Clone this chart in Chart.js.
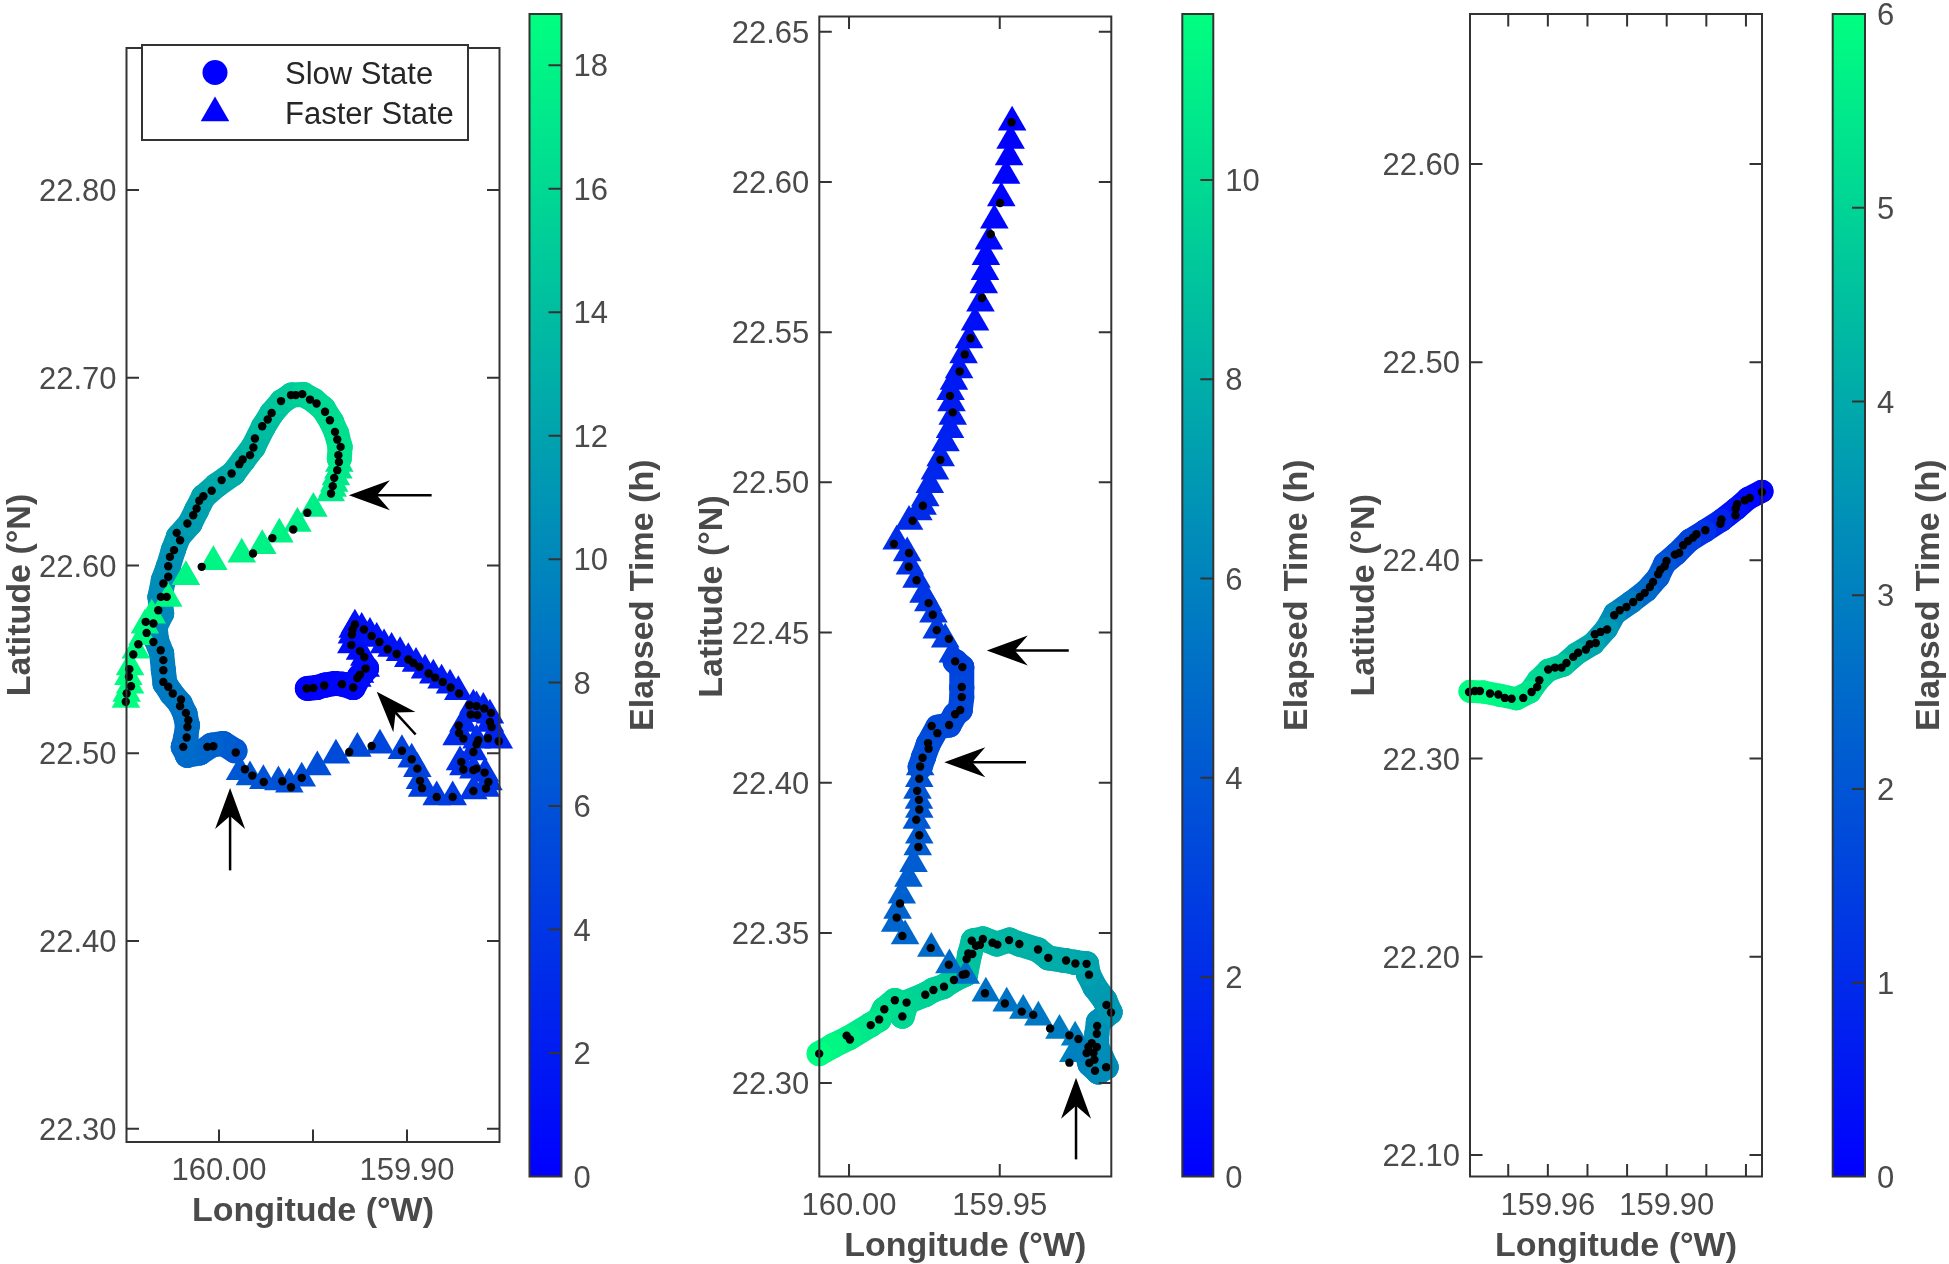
<!DOCTYPE html>
<html lang="en">
<head>
<meta charset="UTF-8" />
<title>Elapsed time tracks</title>
<script src="https://cdn.jsdelivr.net/npm/chart.js@4/dist/chart.umd.js"></script>
<style>
body { margin: 0; background: #fff; }
canvas { position: absolute; top: 0; }
</style>
</head>
<body>
<script>
// ---- panel 1 ----
const slowLon1 = [159.9530,159.9481,159.9436,159.9383,159.9342,159.9286,159.9254,159.9215,null,
  159.9915,159.9977,160.0039,160.0101,160.0168,160.0190,160.0176,160.0168,160.0181,160.0207,
  160.0252,160.0287,160.0296,160.0305,160.0332,160.0340,160.0305,160.0314,160.0296,160.0270,
  160.0243,160.0216,160.0154,160.0119,160.0083,160.0012,159.9924,159.9871,159.9817,159.9764,
  159.9720,159.9667,159.9614,159.9551,159.9498,159.9445,159.9401,159.9374,159.9356,159.9360];
const slowLat1 = [22.5345,22.5350,22.5363,22.5372,22.5368,22.5350,22.5407,22.5452,null,
  22.5013,22.5052,22.5043,22.5002,22.4989,22.5034,22.5087,22.5149,22.5211,22.5265,
  22.5318,22.5371,22.5442,22.5531,22.5602,22.5673,22.5744,22.5833,22.5922,22.5993,
  22.6082,22.6153,22.6224,22.6295,22.6366,22.6428,22.6490,22.6561,22.6632,22.6739,
  22.6810,22.6872,22.6908,22.6911,22.6881,22.6836,22.6765,22.6703,22.6632,22.6570];
const slowTime1 = [0.0,0.1,0.2,0.3,0.4,0.5,0.6,0.7,null,
  6.6,6.9,7.2,7.5,7.8,8.0,8.1,8.3,8.5,8.7,
  8.9,9.1,9.3,9.5,9.7,9.9,10.1,10.3,10.5,10.8,
  11.0,11.3,11.6,11.9,12.2,12.5,12.8,13.1,13.5,13.9,
  14.3,14.7,15.0,15.4,15.7,16.0,16.3,16.5,16.7,16.9];
const fastLon1 = [159.9220,159.9250,159.9264,159.9227,159.9250,159.9296,159.9293,159.9289,159.9277,159.9241,
  159.9197,159.9161,159.9122,159.9082,159.9037,159.8993,159.8952,159.8904,159.8860,159.8816,
  159.8771,159.8727,159.8647,159.8594,159.8559,159.8559,159.8541,159.8512,159.8630,159.8665,
  159.8700,159.8718,159.8736,159.8630,159.8647,159.8700,159.8718,159.8647,159.8585,159.8567,
  159.8580,159.8647,159.8757,159.8842,159.8920,159.8931,159.8945,159.8975,159.9027,159.9144,
  159.9264,159.9378,159.9477,159.9560,159.9626,159.9684,159.9764,159.9835,159.9888,
  159.9360,159.9365,159.9378,159.9387,159.9395,159.9406,159.9498,159.9583,159.9679,159.9770,
  159.9879,160.0030,160.0176,160.0270,160.0358,160.0394,160.0406,160.0442,160.0473,160.0482,
  160.0473,160.0491,160.0495];
const fastLat1 = [22.5451,22.5419,22.5398,22.5510,22.5542,22.5576,22.5629,22.5659,22.5682,22.5664,
  22.5638,22.5611,22.5576,22.5558,22.5535,22.5504,22.5478,22.5442,22.5416,22.5389,
  22.5362,22.5327,22.5256,22.5238,22.5203,22.5158,22.5096,22.5069,22.5247,22.5211,
  22.5158,22.5105,22.5087,22.5069,22.5007,22.4927,22.4954,22.4910,22.4892,22.4847,
  22.4812,22.4799,22.4767,22.4767,22.4812,22.4853,22.4918,22.4968,22.5013,22.5043,
  22.5025,22.4989,22.4927,22.4867,22.4835,22.4847,22.4853,22.4874,22.4901,
  22.6543,22.6508,22.6472,22.6437,22.6410,22.6387,22.6304,22.6224,22.6167,22.6105,
  22.6060,22.6020,22.5940,22.5824,22.5735,22.5682,22.5620,22.5549,22.5460,22.5407,
  22.5362,22.5318,22.5286];
const fastTime1 = [0.7,0.8,0.8,0.9,0.9,0.9,1.0,1.0,1.1,1.1,
  1.2,1.2,1.3,1.4,1.4,1.5,1.6,1.6,1.7,1.8,
  1.9,2.0,2.2,2.3,2.4,2.5,2.6,2.7,2.8,2.9,
  3.0,3.1,3.2,3.3,3.4,3.5,3.6,3.7,3.8,3.9,
  4.0,4.1,4.3,4.5,4.6,4.7,4.8,4.9,5.0,5.2,
  5.4,5.5,5.7,5.8,5.9,6.0,6.1,6.3,6.4,
  17.0,17.1,17.2,17.3,17.4,17.5,17.6,17.7,17.8,17.9,
  18.0,18.1,18.2,18.3,18.4,18.4,18.5,18.5,18.6,18.6,
  18.7,18.7,18.8];
const dotLon1 = [159.9534,159.9498,159.9440,159.9346,159.9286,159.9264,159.9250,159.9220,159.9227,159.9250,
  159.9296,159.9293,159.9289,159.9277,159.9229,159.9188,159.9147,159.9103,159.9055,159.8993,
  159.8966,159.8934,159.8885,159.8851,159.8810,159.8768,159.8723,159.8668,159.8630,159.8589,
  159.8553,159.8559,159.8550,159.8661,159.8626,159.8725,159.8723,159.8700,159.8569,159.8512,
  159.8621,159.8630,159.8647,159.8711,159.8700,159.8647,159.8630,159.8587,159.8567,159.8580,
  159.8647,159.8757,159.8842,159.8920,159.8931,159.8945,159.8975,159.9027,159.9188,159.9307,
  159.9560,159.9617,159.9663,159.9762,159.9823,159.9862,159.9911,
  160.0030,160.0062,160.0190,160.0172,160.0168,160.0163,160.0176,160.0207,160.0202,160.0246,
  160.0270,160.0296,160.0296,160.0296,160.0310,160.0349,160.0349,160.0323,160.0309,160.0296,
  160.0270,160.0270,160.0261,160.0239,160.0207,160.0225,160.0168,160.0137,160.0119,160.0105,
  160.0083,160.0039,159.9986,159.9933,159.9892,159.9874,159.9835,159.9817,159.9809,159.9770,
  159.9741,159.9720,159.9670,159.9617,159.9592,159.9557,159.9516,159.9481,159.9436,159.9410,
  159.9383,159.9371,159.9353,
  159.9365,159.9362,159.9371,159.9387,159.9395,159.9404,159.9530,159.9605,159.9716,159.9819,
  160.0092,160.0278,160.0390,160.0385,160.0429,160.0456,160.0477,160.0479,160.0468,160.0491,160.0496];
const dotLat1 = [22.5345,22.5348,22.5361,22.5368,22.5350,22.5401,22.5419,22.5451,22.5513,22.5544,
  22.5576,22.5632,22.5659,22.5686,22.5659,22.5625,22.5593,22.5554,22.5529,22.5499,
  22.5481,22.5460,22.5425,22.5403,22.5380,22.5350,22.5318,22.5256,22.5251,22.5238,
  22.5215,22.5167,22.5140,22.5206,22.5203,22.5148,22.5108,22.5078,22.5080,22.5064,
  22.5069,22.5048,22.5007,22.4954,22.4913,22.4910,22.4918,22.4897,22.4847,22.4812,
  22.4799,22.4767,22.4767,22.4814,22.4853,22.4918,22.4968,22.5013,22.5039,22.5007,
  22.4869,22.4819,22.4851,22.4847,22.4881,22.4915,22.5004,
  22.5037,22.5034,22.5034,22.5084,22.5140,22.5176,22.5215,22.5251,22.5286,22.5318,
  22.5354,22.5380,22.5442,22.5496,22.5549,22.5593,22.5691,22.5762,22.5833,22.5904,
  22.5940,22.5996,22.6046,22.6082,22.6135,22.6174,22.6224,22.6268,22.6304,22.6345,
  22.6369,22.6398,22.6455,22.6490,22.6540,22.6565,22.6588,22.6629,22.6677,22.6742,
  22.6778,22.6813,22.6876,22.6908,22.6908,22.6913,22.6884,22.6863,22.6819,22.6774,
  22.6712,22.6671,22.6632,
  22.6588,22.6552,22.6508,22.6467,22.6423,22.6384,22.6281,22.6192,22.6146,22.6064,
  22.5993,22.5833,22.5700,22.5641,22.5581,22.5526,22.5448,22.5407,22.5357,22.5318,22.5274];
const arrowTipLon1 = [159.9309,159.9161,159.9941];
const arrowTipLat1 = [22.6375,22.5327,22.4815];
const arrowTailLon1 = [159.8869,159.8954,159.9941];
const arrowTailLat1 = [22.6375,22.5100,22.4376];
const xTicks1 = [160.00,159.95,159.90];
const xLabels1 = ['160.00','','159.90'];
const yTicks1 = [22.30,22.40,22.50,22.60,22.70,22.80];
const barTicks1 = [0,2,4,6,8,10,12,14,16,18];

// ---- panel 2 ----
const slowLon2 = [159.9648,159.9626,159.9626,159.9626,159.9631,159.9648,159.9668,159.9706,159.9737,159.9753,159.9764,null,
  159.9212,159.9201,159.9173,159.9147,159.9178,159.9178,159.9173,159.9134,159.9151,159.9184,
  159.9206,159.9212,159.9250,159.9283,159.9339,159.9374,159.9435,159.9468,159.9510,159.9555,
  159.9588,159.9599,159.9613,159.9654,159.9687,159.9720,159.9748,159.9809,159.9823,159.9848,
  159.9883,159.9900,159.9928,159.9999,160.0052,160.0099];
const slowLat2 = [22.4404,22.4384,22.4317,22.4284,22.4242,22.4227,22.4192,22.4185,22.4129,22.4085,22.4052,null,
  22.3103,22.3064,22.3037,22.3053,22.3120,22.3164,22.3203,22.3236,22.3275,22.3319,
  22.3363,22.3397,22.3402,22.3408,22.3417,22.3444,22.3463,22.3476,22.3463,22.3480,
  22.3474,22.3432,22.3363,22.3343,22.3321,22.3310,22.3294,22.3269,22.3223,22.3275,
  22.3246,22.3212,22.3194,22.3151,22.3125,22.3098];
const slowTime2 = [3.0,3.1,3.2,3.2,3.3,3.3,3.4,3.4,3.5,3.6,3.6,null,
  6.0,6.1,6.3,6.4,6.5,6.6,6.7,6.9,7.0,7.1,
  7.3,7.5,7.7,7.8,7.9,8.0,8.2,8.3,8.4,8.6,
  8.7,8.8,9.0,9.2,9.3,9.5,9.6,9.8,9.9,10.0,
  10.2,10.4,10.6,11.0,11.3,11.6];
const fastLon2 = [159.9459,159.9464,159.9469,159.9479,159.9495,159.9518,159.9536,159.9546,159.9549,159.9553,
  159.9564,159.9582,159.9602,159.9620,159.9635,159.9652,159.9663,159.9660,159.9656,159.9665,
  159.9680,159.9696,159.9715,159.9732,159.9747,159.9756,159.9770,159.9801,159.9842,159.9807,
  159.9798,159.9776,159.9753,159.9737,159.9720,159.9709,159.9681,159.9656,
  159.9764,159.9767,159.9773,159.9768,159.9767,159.9775,159.9767,159.9772,159.9786,159.9803,
  159.9825,159.9839,159.9847,159.9814,159.9727,159.9667,
  159.9613,159.9546,159.9477,159.9422,159.9372,159.9302,159.9250,159.9256];
const fastLat2 = [22.6199,22.6138,22.6083,22.6022,22.5947,22.5873,22.5803,22.5751,22.5701,22.5657,
  22.5596,22.5533,22.5474,22.5424,22.5374,22.5336,22.5302,22.5264,22.5219,22.5175,
  22.5131,22.5081,22.5037,22.4992,22.4948,22.4920,22.4901,22.4870,22.4804,22.4765,
  22.4721,22.4677,22.4627,22.4598,22.4561,22.4508,22.4478,22.4428,
  22.4052,22.4013,22.3974,22.3941,22.3911,22.3874,22.3825,22.3786,22.3730,22.3681,
  22.3625,22.3575,22.3531,22.3490,22.3448,22.3393,
  22.3358,22.3299,22.3266,22.3242,22.3219,22.3175,22.3153,22.3098];
const fastTime2 = [0.0,0.1,0.1,0.2,0.2,0.3,0.4,0.4,0.5,0.5,
  0.6,0.7,0.8,0.9,1.0,1.1,1.2,1.2,1.3,1.4,
  1.5,1.6,1.7,1.8,1.9,1.9,2.0,2.0,2.1,2.2,
  2.2,2.3,2.4,2.5,2.6,2.7,2.8,2.9,
  3.7,3.8,3.8,3.9,4.0,4.0,4.1,4.2,4.2,4.3,
  4.4,4.5,4.6,4.7,4.9,5.0,
  5.1,5.2,5.3,5.4,5.5,5.7,5.8,5.9];
const dotLon2 = [159.9461,159.9499,159.9530,159.9559,159.9597,159.9616,159.9633,159.9665,159.9656,159.9697,
  159.9755,159.9789,159.9851,159.9801,159.9802,159.9776,159.9736,159.9722,159.9709,159.9669,
  159.9648,159.9624,159.9626,159.9626,159.9631,159.9648,159.9668,159.9726,159.9707,159.9738,
  159.9736,159.9756,159.9764,159.9767,159.9774,159.9768,159.9767,159.9777,159.9767,159.9770,
  159.9831,159.9842,159.9823,159.9729,159.9669,
  159.9549,159.9483,159.9427,159.9389,159.9333,159.9269,159.9239,159.9269,159.9212,159.9206,
  159.9195,159.9178,159.9189,159.9186,159.9203,159.9184,159.9147,159.9178,159.9177,159.9131,
  159.9146,159.9204,159.9212,159.9249,159.9280,159.9339,159.9373,159.9435,159.9469,159.9508,
  159.9524,159.9556,159.9566,159.9579,159.9593,159.9591,159.9604,159.9610,159.9613,159.9623,
  159.9652,159.9685,159.9720,159.9747,159.9809,159.9823,159.9848,159.9883,159.9900,159.9928,
  159.9997,160.0008,160.0099];
const dotLat2 = [22.6199,22.5930,22.5826,22.5614,22.5480,22.5426,22.5369,22.5288,22.5233,22.5075,
  22.4922,22.4872,22.4795,22.4765,22.4719,22.4674,22.4598,22.4559,22.4508,22.4479,
  22.4404,22.4385,22.4319,22.4285,22.4242,22.4228,22.4192,22.4189,22.4165,22.4132,
  22.4113,22.4083,22.4054,22.4013,22.3973,22.3943,22.3911,22.3877,22.3825,22.3786,
  22.3598,22.3551,22.3490,22.3450,22.3394,
  22.3299,22.3265,22.3238,22.3227,22.3182,22.3159,22.3147,22.3068,22.3100,22.3120,
  22.3133,22.3120,22.3100,22.3078,22.3067,22.3041,22.3053,22.3164,22.3190,22.3235,
  22.3260,22.3361,22.3397,22.3398,22.3408,22.3417,22.3445,22.3463,22.3476,22.3461,
  22.3467,22.3480,22.3460,22.3457,22.3474,22.3430,22.3432,22.3413,22.3363,22.3361,
  22.3343,22.3321,22.3310,22.3294,22.3268,22.3222,22.3276,22.3246,22.3212,22.3193,
  22.3145,22.3158,22.3098];
const arrowTipLon2 = [159.9543,159.9684,159.9247];
const arrowTipLat2 = [22.4440,22.4068,22.3018];
const arrowTailLon2 = [159.9271,159.9413,159.9247];
const arrowTailLat2 = [22.4440,22.4068,22.2746];
const xTicks2 = [160.00,159.95];
const xLabels2 = ['160.00','159.95'];
const yTicks2 = [22.30,22.35,22.40,22.45,22.50,22.55,22.60,22.65];
const barTicks2 = [0,2,4,6,8,10];

// ---- panel 3 ----
const slowLon3 = [159.8519,159.8590,159.8648,159.8724,159.8808,159.8884,159.8951,159.9010,159.9043,159.9102,
  159.9178,159.9262,159.9304,159.9371,159.9455,159.9522,159.9598,159.9649,159.9691,159.9758,
  159.9842,159.9926,159.9993];
const slowLat3 = [22.4349,22.4312,22.4261,22.4202,22.4148,22.4101,22.4034,22.3984,22.3916,22.3849,
  22.3790,22.3731,22.3656,22.3580,22.3529,22.3471,22.3445,22.3395,22.3336,22.3302,
  22.3319,22.3336,22.3339];
const slowTime3 = [0,0.2,0.4,0.8,1.2,1.6,1.8,2.0,2.2,2.5,
  2.9,3.3,3.6,3.9,4.3,4.7,4.9,5.1,5.4,5.6,
  5.8,5.9,6.0];
const dotLon3 = [159.8519,159.8581,159.8606,159.8645,159.8652,159.8653,159.8724,159.8729,159.8805,159.8850,
  159.8867,159.8892,159.8917,159.8937,159.8959,159.9001,159.9010,159.9032,159.9043,159.9069,
  159.9085,159.9111,159.9136,159.9169,159.9203,159.9237,159.9265,159.9301,159.9334,159.9363,
  159.9358,159.9388,159.9408,159.9447,159.9472,159.9506,159.9531,159.9564,159.9598,159.9643,
  159.9654,159.9682,159.9724,159.9783,159.9817,159.9850,159.9892,159.9943,159.9968,159.9998];
const dotLat3 = [22.4345,22.4315,22.4303,22.4283,22.4261,22.4227,22.4206,22.4185,22.4152,22.4132,
  22.4115,22.4098,22.4076,22.4037,22.4029,22.3997,22.3970,22.3953,22.3930,22.3891,
  22.3866,22.3836,22.3815,22.3790,22.3765,22.3748,22.3723,22.3651,22.3639,22.3627,
  22.3583,22.3577,22.3550,22.3534,22.3513,22.3482,22.3459,22.3459,22.3449,22.3395,
  22.3361,22.3336,22.3306,22.3302,22.3306,22.3323,22.3328,22.3341,22.3341,22.3336];
const xTicks3 = [159.98,159.96,159.94,159.92,159.90,159.88,159.86];
const xLabels3 = ['','159.96','','','159.90','',''];
const yTicks3 = [22.10,22.20,22.30,22.40,22.50,22.60];
const barTicks3 = [0,1,2,3,4,5,6];

const legendLabels = ['Slow State','Faster State'];
const xTitle = 'Longitude (°W)';
const yTitle = 'Latitude (°N)';
const barTitle = 'Elapsed Time (h)';

const FONT = '"Liberation Sans", Arial, sans-serif';
const TICK_COLOR = '#4a4a4a';
const LINE_COLOR = '#333333';
const X_AXIS_HEIGHT = 87;

// winter colormap
function winter(t, tMax) {
  const f = Math.min(Math.max(t / tMax, 0), 1);
  return 'rgb(0,' + Math.round(255 * f) + ',' + Math.round(255 * (1 - 0.5 * f)) + ')';
}

function xy(lon, lat) {
  return lon.map((v, i) => ({ x: v, y: lat[i] }));
}

function addCanvas(left, width) {
  const c = document.createElement('canvas');
  c.width = width;
  c.height = 1264;
  c.style.left = left + 'px';
  c.style.width = width + 'px';
  c.style.height = '1264px';
  document.body.appendChild(c);
  return c.getContext('2d');
}

// MATLAB style box with inward ticks
const boxPlugin = {
  id: 'box',
  afterDatasetsDraw(chart) {
    const { ctx, chartArea: a, scales } = chart;
    ctx.save();
    ctx.strokeStyle = LINE_COLOR;
    ctx.lineWidth = 2;
    ctx.beginPath();
    if (scales.x.options.display) {
      scales.x.ticks.forEach(t => {
        const px = scales.x.getPixelForValue(t.value);
        ctx.moveTo(px, a.bottom); ctx.lineTo(px, a.bottom - 12.5);
        ctx.moveTo(px, a.top); ctx.lineTo(px, a.top + 12.5);
      });
      scales.y.ticks.forEach(t => {
        const py = scales.y.getPixelForValue(t.value);
        ctx.moveTo(a.left, py); ctx.lineTo(a.left + 12.5, py);
        ctx.moveTo(a.right, py); ctx.lineTo(a.right - 12.5, py);
      });
    } else {
      scales.y.ticks.forEach(t => {
        const py = scales.y.getPixelForValue(t.value);
        ctx.moveTo(a.right, py); ctx.lineTo(a.right - 13, py);
      });
    }
    ctx.rect(a.left, a.top, a.right - a.left, a.bottom - a.top);
    ctx.stroke();
    ctx.restore();
  }
};

// stealth arrows given in data units
const arrowPlugin = {
  id: 'arrows',
  afterDatasetsDraw(chart, args, opts) {
    if (!opts.tipLon) return;
    const { ctx, scales } = chart;
    opts.tipLon.forEach((v, i) => {
      const tx = scales.x.getPixelForValue(v), ty = scales.y.getPixelForValue(opts.tipLat[i]);
      const ex = scales.x.getPixelForValue(opts.tailLon[i]), ey = scales.y.getPixelForValue(opts.tailLat[i]);
      const ang = Math.atan2(ey - ty, ex - tx);
      ctx.save();
      ctx.translate(tx, ty);
      ctx.rotate(ang);
      const len = Math.hypot(ex - tx, ey - ty);
      ctx.strokeStyle = '#000';
      ctx.fillStyle = '#000';
      ctx.lineWidth = 2.5;
      ctx.beginPath();
      ctx.moveTo(26, 0); ctx.lineTo(len, 0);
      ctx.stroke();
      ctx.beginPath();
      ctx.moveTo(0, 0); ctx.lineTo(41, -15); ctx.lineTo(28, 0); ctx.lineTo(41, 15);
      ctx.closePath();
      ctx.fill();
      ctx.restore();
    });
  }
};

const legendPlugin = {
  id: 'stateLegend',
  afterDraw(chart, args, opts) {
    if (!opts.labels) return;
    const ctx = chart.ctx;
    ctx.save();
    ctx.fillStyle = '#fff';
    ctx.strokeStyle = LINE_COLOR;
    ctx.lineWidth = 2;
    ctx.fillRect(142, 45, 326, 95);
    ctx.strokeRect(142, 45, 326, 95);
    ctx.fillStyle = '#0000ff';
    Chart.helpers.drawPoint(ctx, { pointStyle: 'circle', radius: 12.5, borderWidth: 0 }, 215, 72.5);
    Chart.helpers.drawPoint(ctx, { pointStyle: 'triangle', radius: 16.5, borderWidth: 0 }, 215, 113);
    ctx.fillStyle = '#262626';
    ctx.font = '31px ' + FONT;
    ctx.textBaseline = 'middle';
    ctx.fillText(opts.labels[0], 285, 75);
    ctx.fillText(opts.labels[1], 285, 115);
    ctx.restore();
  }
};

// the colorbar title reads bottom to top, chart.js puts a right title the other way
const barTitlePlugin = {
  id: 'barTitle',
  afterDraw(chart, args, opts) {
    if (!opts.text) return;
    const ctx = chart.ctx;
    ctx.save();
    ctx.translate(opts.x, (chart.chartArea.top + chart.chartArea.bottom) / 2);
    ctx.rotate(-Math.PI / 2);
    ctx.fillStyle = TICK_COLOR;
    ctx.font = 'bold 34px ' + FONT;
    ctx.textAlign = 'center';
    ctx.textBaseline = 'middle';
    ctx.fillText(opts.text, 0, 0);
    ctx.restore();
  }
};

function noOverhang(s) {
  s.paddingLeft = s.paddingRight = s.paddingTop = s.paddingBottom = 0;
}

// liberation digits sit high on the middle baseline, push vertical axis labels down
function nudgeLabels(s) {
  if (s._nudged) return;
  s._nudged = true;
  const compute = s._computeLabelItems.bind(s);
  s._computeLabelItems = area => {
    const items = compute(area);
    items.forEach(it => {
      const tr = it.options.translation;
      it.options.translation = [tr[0], tr[1] + 2.5];
    });
    return items;
  };
  s._labelItems = null;
}

function drawPanel(p) {
  const ctx = addCanvas(p.canvasLeft, p.canvasWidth);
  const padLeft = p.titleX - 17 - p.canvasLeft;
  new Chart(ctx, {
    type: 'scatter',
    data: {
      datasets: [
        {
          label: 'dots', data: xy(p.dotLon, p.dotLat), order: 1, clip: false,
          pointStyle: 'circle', pointRadius: 4.2, pointBorderWidth: 0, pointBackgroundColor: '#000'
        },
        {
          label: legendLabels[1], data: xy(p.fastLon, p.fastLat), order: 2, clip: false,
          pointStyle: 'triangle', pointRadius: 16.5, pointBorderWidth: 0,
          pointBackgroundColor: p.fastTime.map(t => winter(t, p.tMax))
        },
        {
          label: legendLabels[0], data: xy(p.slowLon, p.slowLat), order: 3, clip: false,
          showLine: true, tension: 0, borderWidth: p.band, borderCapStyle: 'round', borderJoinStyle: 'round',
          borderColor: '#0000ff', spanGaps: false,
          segment: { borderColor: c => winter(p.slowTime[c.p0DataIndex], p.tMax) },
          pointStyle: 'circle', pointRadius: p.band / 2, pointBorderWidth: 0,
          pointBackgroundColor: p.slowTime.map(t => t === null ? '#fff' : winter(t, p.tMax))
        }
      ]
    },
    options: {
      responsive: false,
      animation: false,
      events: [],
      layout: { padding: { left: padLeft, top: p.top, right: p.canvasLeft + p.canvasWidth - p.right, bottom: 1264 - p.bottom - X_AXIS_HEIGHT } },
      scales: {
        x: {
          type: 'linear', reverse: true, min: p.lonMin, max: p.lonMax,
          grid: { display: false, drawTicks: false }, border: { display: false },
          afterBuildTicks: s => { s.ticks = p.xTicks.map(v => ({ value: v })); },
          afterFit: s => { s.height = X_AXIS_HEIGHT; noOverhang(s); },
          ticks: {
            autoSkip: false, maxRotation: 0, minRotation: 0, padding: 11, color: TICK_COLOR,
            font: { family: FONT, size: 31 }, callback: (v, i) => p.xLabels[i]
          },
          title: { display: true, text: xTitle, color: TICK_COLOR, padding: 0, font: { family: FONT, size: 34, weight: 'bold', lineHeight: 1 } }
        },
        y: {
          type: 'linear', min: p.latMin, max: p.latMax,
          grid: { display: false, drawTicks: false }, border: { display: false },
          afterBuildTicks: s => { s.ticks = p.yTicks.map(v => ({ value: v })); },
          afterFit: s => { s.width = p.left - p.canvasLeft - padLeft; noOverhang(s); },
          afterUpdate: nudgeLabels,
          ticks: {
            autoSkip: false, padding: 10, color: TICK_COLOR,
            font: { family: FONT, size: 31 }, callback: v => v.toFixed(2)
          },
          title: { display: true, text: yTitle, color: TICK_COLOR, padding: 0, font: { family: FONT, size: 34, weight: 'bold', lineHeight: 1 } }
        }
      },
      plugins: {
        legend: { display: false },
        tooltip: { enabled: false },
        arrows: { tipLon: p.tipLon, tipLat: p.tipLat, tailLon: p.tailLon, tailLat: p.tailLat },
        stateLegend: { labels: p.legend }
      }
    },
    plugins: [boxPlugin, arrowPlugin, legendPlugin]
  });
}

function drawBar(b) {
  const ctx = addCanvas(b.canvasLeft, b.canvasWidth);
  new Chart(ctx, {
    type: 'bar',
    data: {
      labels: [''],
      datasets: [{
        data: [b.tMax], barPercentage: 1, categoryPercentage: 1, borderWidth: 0,
        backgroundColor: c => {
          const a = c.chart.chartArea;
          if (!a) return '#0000ff';
          const g = c.chart.ctx.createLinearGradient(0, a.bottom, 0, a.top);
          g.addColorStop(0, winter(0, 1));
          g.addColorStop(1, winter(1, 1));
          return g;
        }
      }]
    },
    options: {
      responsive: false,
      animation: false,
      events: [],
      layout: { padding: { left: b.left - b.canvasLeft, top: b.top, right: 0, bottom: 1264 - b.bottom } },
      scales: {
        x: { display: false },
        y: {
          position: 'right', min: 0, max: b.tMax,
          grid: { display: false, drawTicks: false }, border: { display: false },
          afterBuildTicks: s => { s.ticks = b.ticks.map(v => ({ value: v })); },
          afterFit: s => { s.width = b.canvasLeft + b.canvasWidth - b.right; noOverhang(s); },
          afterUpdate: nudgeLabels,
          ticks: {
            autoSkip: false, padding: 12, color: TICK_COLOR,
            font: { family: FONT, size: 31 }, callback: v => String(v)
          }
        }
      },
      plugins: {
        legend: { display: false },
        tooltip: { enabled: false },
        barTitle: { text: barTitle, x: b.titleX - b.canvasLeft }
      }
    },
    plugins: [boxPlugin, barTitlePlugin]
  });
}

drawPanel({
  canvasLeft: 0, canvasWidth: 528, left: 126.5, right: 499.5, top: 48, bottom: 1142, titleX: 20.5, band: 25,
  lonMin: 159.8508, lonMax: 160.0492, latMin: 22.2929, latMax: 22.8757, tMax: 18.83,
  slowLon: slowLon1, slowLat: slowLat1, slowTime: slowTime1,
  fastLon: fastLon1, fastLat: fastLat1, fastTime: fastTime1,
  dotLon: dotLon1, dotLat: dotLat1,
  tipLon: arrowTipLon1, tipLat: arrowTipLat1, tailLon: arrowTailLon1, tailLat: arrowTailLat1,
  xTicks: xTicks1, xLabels: xLabels1, yTicks: yTicks1, legend: legendLabels
});
drawBar({ canvasLeft: 528, canvasWidth: 160, left: 529.5, right: 561.5, top: 14, bottom: 1176.5, titleX: 643.5, tMax: 18.83, ticks: barTicks1 });

drawPanel({
  canvasLeft: 690, canvasWidth: 488, left: 819.3, right: 1111.3, top: 14, bottom: 1176.5, titleX: 712.5, band: 25,
  lonMin: 159.913, lonMax: 160.00986, latMin: 22.2689, latMax: 22.6551, tMax: 11.665,
  slowLon: slowLon2, slowLat: slowLat2, slowTime: slowTime2,
  fastLon: fastLon2, fastLat: fastLat2, fastTime: fastTime2,
  dotLon: dotLon2, dotLat: dotLat2,
  tipLon: arrowTipLon2, tipLat: arrowTipLat2, tailLon: arrowTailLon2, tailLat: arrowTailLat2,
  xTicks: xTicks2, xLabels: xLabels2, yTicks: yTicks2
});
drawBar({ canvasLeft: 1178, canvasWidth: 167, left: 1182.3, right: 1213.3, top: 14, bottom: 1176.5, titleX: 1297.5, tMax: 11.665, ticks: barTicks2 });

drawPanel({
  canvasLeft: 1345, canvasWidth: 485, left: 1470, right: 1762, top: 14, bottom: 1176.5, titleX: 1364.5, band: 23,
  lonMin: 159.8519, lonMax: 159.9993, latMin: 22.0891, latMax: 22.6757, tMax: 6,
  slowLon: slowLon3, slowLat: slowLat3, slowTime: slowTime3,
  fastLon: [], fastLat: [], fastTime: [],
  dotLon: dotLon3, dotLat: dotLat3,
  xTicks: xTicks3, xLabels: xLabels3, yTicks: yTicks3
});
drawBar({ canvasLeft: 1830, canvasWidth: 119, left: 1832.7, right: 1865, top: 14, bottom: 1176.5, titleX: 1930, tMax: 6, ticks: barTicks3 });
</script>
</body>
</html>
